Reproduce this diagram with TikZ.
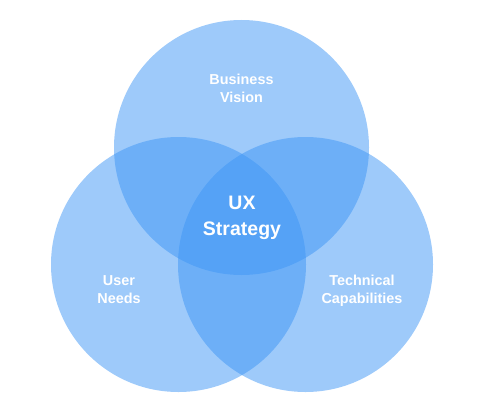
\documentclass[tikz,border=0pt]{standalone}
\usepackage{fontspec}
\setmainfont{Liberation Sans}
\usepackage{tikz}
\definecolor{SetBlue}{RGB}{61,149,245}

\begin{document}
\begin{tikzpicture}[x=1pt, y=-1pt, every node/.style={font=\bfseries}]
  \tikzstyle{set}=[circle, fill=SetBlue, fill opacity=0.5, draw=none,
  minimum size=255pt, inner sep=0pt, outer sep=0pt]
  \tikzstyle{lbl}=[text=white, align=center, inner sep=0pt,
  font=\bfseries\fontsize{14.4}{18}\selectfont]
  \useasboundingbox (0,0) rectangle (489,412);
  % the three sets
  \node[set] (business) at (241.5,147.5) {};
  \node[set] (user) at (178.5,264.5) {};
  \node[set] (tech) at (305.5,264.5) {};
  % labels
  \node[lbl] (businesstxt) at (241.5,88) {Business\\Vision};
  \node[lbl] (usertxt) at (119,290) {User\\Needs};
  \node[lbl] (techtxt) at (362,291) {Technical\\Capabilities};
  \node[lbl, font=\bfseries\fontsize{19.5}{26}\selectfont] (ux) at (242,217.5) {UX\\Strategy};
\end{tikzpicture}
\end{document}
